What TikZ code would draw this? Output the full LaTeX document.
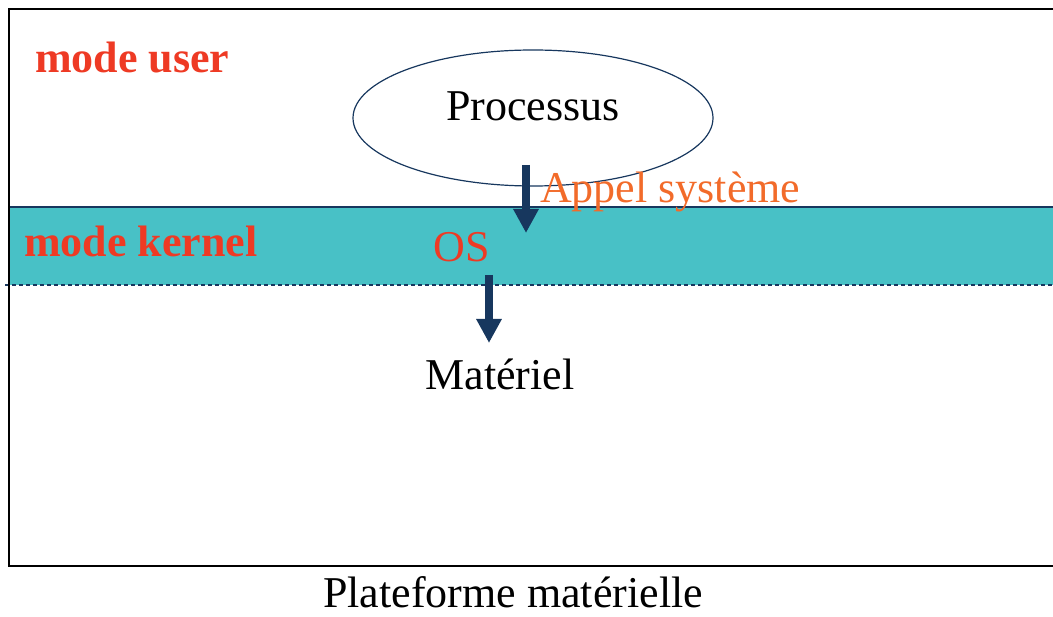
\documentclass[tikz,border=0pt]{standalone}
\usepackage{fontspec}
\setmainfont{Liberation Serif}
\usetikzlibrary{arrows.meta}
\usetikzlibrary{shapes.geometric}
\definecolor{bandteal}{RGB}{72,193,198}
\definecolor{arrownavy}{RGB}{23,55,94}
\definecolor{modered}{RGB}{238,58,36}
\definecolor{callorange}{RGB}{242,107,42}

\begin{document}
\begin{tikzpicture}[x=1pt,y=-1pt,
	txt/.style={inner sep=0pt,anchor=base,font=\fontsize{44}{50}\selectfont},
	mode label/.style={txt,anchor=base west,text=modered,font=\fontsize{44}{50}\selectfont\bfseries},
	proc node/.style={ellipse,draw=arrownavy,line width=1.2pt,minimum width=360pt,minimum height=136pt},
	big arrow/.style={arrownavy,line width=8pt,-{Triangle[width=24pt,length=24pt]}}]
	
	\useasboundingbox (0,0) rectangle (1053,617);
	
	% kernel band, runs past the right edge
	\fill[bandteal] (9,207) rectangle (1053,285);
	\draw[arrownavy,line width=1.2pt] (9,207) -- (1053,207);
	\draw[arrownavy,line width=1.2pt,dashed,dash pattern=on 4pt off 3pt] (5,285) -- (1053,285);
	
	% platform frame, open on the right
	\draw[line width=1.5pt] (1053,9) -- (9,9) -- (9,566) -- (1053,566);
	
	\node[mode label] (user) at (35,73) {mode user};
	\node[mode label] (kernel) at (24,257) {mode kernel};
	
	\node[proc node] (proc) at (533,118) {};
	\node[txt] (proctext) at (533,121) {Processus};
	\node[txt,anchor=base west,text=callorange] (call) at (540,203) {Appel système};
	\node[txt,text=modered] (os) at (462,262) {OS};
	\node[txt] (hw) at (500,390) {Matériel};
	\node[txt] (platform) at (513,607) {Plateforme matérielle};
	
	\coordinate (callfrom) at (526,165);
	\coordinate (callto) at (526,233);
	\coordinate (osfrom) at (489,275);
	\coordinate (osto) at (489,343);
	
	\path[big arrow]
	(callfrom) edge (callto)
	(osfrom) edge (osto);
	
\end{tikzpicture}
\end{document}
